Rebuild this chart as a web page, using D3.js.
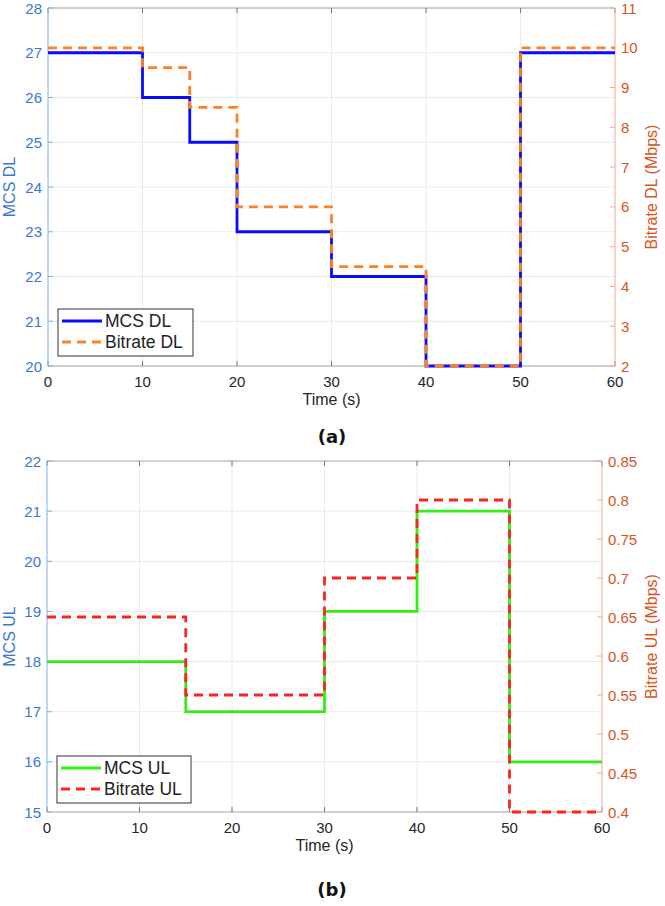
<!DOCTYPE html>
<html><head><meta charset="utf-8">
<script src="https://cdn.jsdelivr.net/npm/d3@7"></script>
<style>body{margin:0;background:#fff}svg{display:block}text{font-family:"Liberation Sans",Arial,sans-serif}</style>
</head><body><svg id="c" width="665" height="906"></svg>
<script>
// Panel (a)
const timeA = [0, 10, 15, 20, 30, 40, 50, 60];
const mcsDL = [27, 26, 25, 23, 22, 20, 27, 27];
const bitrateDL = [10, 9.5, 8.5, 6, 4.5, 2, 10, 10];
// Panel (b)
const timeB = [0, 15, 30, 40, 50, 60];
const mcsUL = [18, 17, 19, 21, 16, 16];
const bitrateUL = [0.65, 0.55, 0.7, 0.8, 0.4, 0.4];

const xTicks = [0, 10, 20, 30, 40, 50, 60];
const leftTicksA = [20, 21, 22, 23, 24, 25, 26, 27, 28];
const rightTicksA = [2, 3, 4, 5, 6, 7, 8, 9, 10, 11];
const leftTicksB = [15, 16, 17, 18, 19, 20, 21, 22];
const rightTicksB = [0.4, 0.45, 0.5, 0.55, 0.6, 0.65, 0.7, 0.75, 0.8, 0.85];

const svg = d3.select("#c");
const leftCol = "#3a78d0", rightCol = "#d9531e";

function panel(cfg) {
  const {x0, x1, y0, y1} = cfg;
  const g = svg.append("g");
  const x = d3.scaleLinear().domain([0, 60]).range([x0, x1]);
  const yl = d3.scaleLinear().domain(cfg.lDom).range([y1, y0]);
  const yr = d3.scaleLinear().domain(cfg.rDom).range([y1, y0]);
  // grid
  g.append("g").selectAll("line").data(xTicks.slice(1, -1)).join("line")
    .attr("x1", d => x(d)).attr("x2", d => x(d)).attr("y1", y0).attr("y2", y1)
    .attr("stroke", "#e6ebf0").attr("stroke-width", 1);
  g.append("g").selectAll("line").data(cfg.lTicks.slice(1, -1)).join("line")
    .attr("x1", x0).attr("x2", x1).attr("y1", d => yl(d)).attr("y2", d => yl(d))
    .attr("stroke", "#e6ebf0").attr("stroke-width", 1);
  // box top/bottom
  g.append("line").attr("x1", x0).attr("x2", x1).attr("y1", y0).attr("y2", y0).attr("stroke", "#a0a0a0");
  g.append("line").attr("x1", x0).attr("x2", x1).attr("y1", y1).attr("y2", y1).attr("stroke", "#a0a0a0");
  // x ticks (inward, bottom and top)
  g.append("g").selectAll("line").data(xTicks).join("line")
    .attr("x1", d => x(d)).attr("x2", d => x(d)).attr("y1", y1).attr("y2", y1 - 5).attr("stroke", "#777");
  g.append("g").selectAll("line").data(xTicks).join("line")
    .attr("x1", d => x(d)).attr("x2", d => x(d)).attr("y1", y0).attr("y2", y0 + 5).attr("stroke", "#777");
  g.append("g").selectAll("text").data(xTicks).join("text")
    .attr("x", d => x(d)).attr("y", y1 + 21).attr("text-anchor", "middle")
    .attr("font-size", 15).attr("fill", "#262626").text(d => d);
  // left axis
  g.append("line").attr("x1", x0).attr("x2", x0).attr("y1", y0).attr("y2", y1).attr("stroke", "#7fb0e8");
  g.append("g").selectAll("line").data(cfg.lTicks).join("line")
    .attr("x1", x0).attr("x2", x0 + 5).attr("y1", d => yl(d)).attr("y2", d => yl(d)).attr("stroke", "#7fb0e8");
  g.append("g").selectAll("text").data(cfg.lTicks).join("text")
    .attr("x", x0 - 6).attr("y", d => yl(d) + 5.5).attr("text-anchor", "end")
    .attr("font-size", 15).attr("fill", leftCol).text(d => d);
  // right axis
  g.append("line").attr("x1", x1).attr("x2", x1).attr("y1", y0).attr("y2", y1).attr("stroke", "#f0aa88");
  g.append("g").selectAll("line").data(cfg.rTicks).join("line")
    .attr("x1", x1).attr("x2", x1 - 5).attr("y1", d => yr(d)).attr("y2", d => yr(d)).attr("stroke", "#f0aa88");
  g.append("g").selectAll("text").data(cfg.rTicks).join("text")
    .attr("x", x1 + 6).attr("y", d => yr(d) + 5.5).attr("text-anchor", "start")
    .attr("font-size", 15).attr("fill", rightCol).text(d => d);
  // lines
  const line1 = d3.line().x(d => x(d[0])).y(d => yl(d[1])).curve(d3.curveStepAfter);
  const line2 = d3.line().x(d => x(d[0])).y(d => yr(d[1])).curve(d3.curveStepAfter);
  g.append("path").datum(cfg.t.map((t, i) => [t, cfg.lv[i]])).attr("d", line1)
    .attr("fill", "none").attr("stroke", cfg.c1).attr("stroke-width", 2.8);
  g.append("path").datum(cfg.t.map((t, i) => [t, cfg.rv[i]])).attr("d", line2)
    .attr("fill", "none").attr("stroke", cfg.c2).attr("stroke-width", 2.8).attr("stroke-dasharray", "9,6");
  // labels
  g.append("text").attr("x", (x0 + x1) / 2).attr("y", y1 + 39).attr("text-anchor", "middle")
    .attr("font-size", 16).attr("fill", "#262626").text("Time (s)");
  g.append("text").attr("transform", `translate(${cfg.ll},${(y0 + y1) / 2}) rotate(-90)`)
    .attr("text-anchor", "middle").attr("font-size", 16).attr("fill", leftCol).text(cfg.lLabel);
  g.append("text").attr("transform", `translate(${cfg.rl},${(y0 + y1) / 2}) rotate(-90)`)
    .attr("text-anchor", "middle").attr("font-size", 16).attr("fill", rightCol).text(cfg.rLabel);
  g.append("text").attr("x", 332).attr("y", cfg.capY).attr("text-anchor", "middle")
    .attr("font-size", 18).attr("font-weight", "bold").attr("fill", "#111")
    .style("font-family", "'DejaVu Sans',sans-serif").text(cfg.cap);
  // legend
  const L = cfg.leg;
  g.append("rect").attr("x", L.x).attr("y", L.y).attr("width", L.w).attr("height", 47)
    .attr("fill", "#fff").attr("stroke", "#333").attr("stroke-width", 1);
  g.append("line").attr("x1", L.x + 4).attr("x2", L.x + 44).attr("y1", L.y + 12).attr("y2", L.y + 12)
    .attr("stroke", cfg.c1).attr("stroke-width", 2.8);
  g.append("line").attr("x1", L.x + 4).attr("x2", L.x + 44).attr("y1", L.y + 33).attr("y2", L.y + 33)
    .attr("stroke", cfg.c2).attr("stroke-width", 2.8).attr("stroke-dasharray", "9,6");
  g.append("text").attr("x", L.x + 47).attr("y", L.y + 18).attr("font-size", 17.5).attr("fill", "#222").text(cfg.n1);
  g.append("text").attr("x", L.x + 47).attr("y", L.y + 39).attr("font-size", 17.5).attr("fill", "#222").text(cfg.n2);
}

panel({x0: 48, x1: 615, y0: 8, y1: 366, lDom: [20, 28], rDom: [2, 11],
  lTicks: leftTicksA, rTicks: rightTicksA, t: timeA, lv: mcsDL, rv: bitrateDL,
  c1: "#0a0aff", c2: "#ff8020", lLabel: "MCS DL", rLabel: "Bitrate DL (Mbps)",
  ll: 15, rl: 657, cap: "(a)", capY: 443, n1: "MCS DL", n2: "Bitrate DL",
  leg: {x: 58, y: 309, w: 135}});
panel({x0: 47, x1: 602, y0: 461, y1: 812, lDom: [15, 22], rDom: [0.4, 0.85],
  lTicks: leftTicksB, rTicks: rightTicksB, t: timeB, lv: mcsUL, rv: bitrateUL,
  c1: "#33ee11", c2: "#ff2222", lLabel: "MCS UL", rLabel: "Bitrate UL (Mbps)",
  ll: 15, rl: 657, cap: "(b)", capY: 896, n1: "MCS UL", n2: "Bitrate UL",
  leg: {x: 57, y: 756, w: 134}});
</script></body></html>
